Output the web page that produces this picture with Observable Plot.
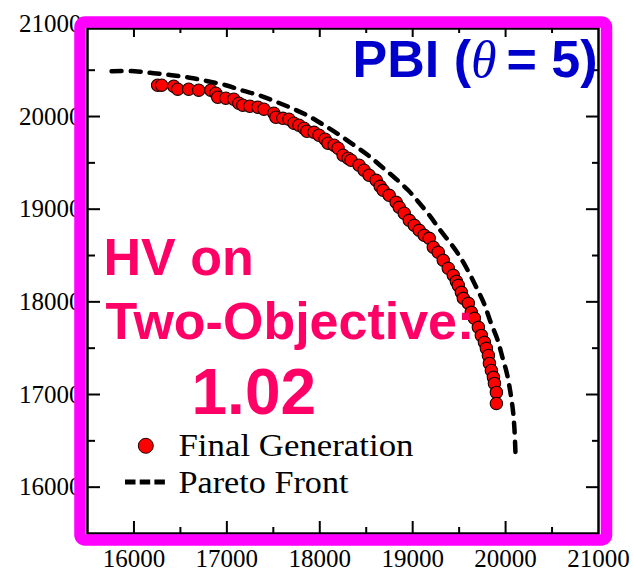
<!DOCTYPE html>
<html><head><meta charset="utf-8">
<script src="https://cdn.jsdelivr.net/npm/d3@7"></script>
<script src="https://cdn.jsdelivr.net/npm/@observablehq/plot@0.6"></script>
<style>html,body{margin:0;padding:0;background:#fff;} svg{display:block}</style>
</head><body>
<div id="chart"></div>
<script>
// ---- data ----
const finalX = [16255, 16298, 16428, 16471, 16589, 16697, 16827, 16881, 16902, 16989, 17075, 17129, 17172, 17247, 17334, 17399, 17506, 17528, 17603, 17668, 17722, 17776, 17830, 17862, 17938, 17992, 18057, 18089, 18154, 18197, 18251, 18305, 18337, 18423, 18477, 18531, 18607, 18650, 18682, 18747, 18822, 18855, 18909, 18963, 19017, 19070, 19124, 19178, 19222, 19275, 19329, 19383, 19437, 19470, 19491, 19524, 19545, 19599, 19631, 19664, 19707, 19739, 19772, 19793, 19815, 19826, 19847, 19869, 19880, 19901, 19901];
const finalY = [20338, 20338, 20327, 20295, 20295, 20284, 20284, 20252, 20208, 20198, 20187, 20144, 20122, 20111, 20100, 20079, 20036, 19992, 19981, 19971, 19928, 19906, 19874, 19841, 19830, 19798, 19755, 19712, 19690, 19658, 19582, 19550, 19528, 19474, 19420, 19366, 19312, 19247, 19204, 19150, 19074, 19020, 18956, 18880, 18826, 18772, 18718, 18686, 18589, 18535, 18448, 18362, 18286, 18221, 18178, 18103, 18038, 17984, 17887, 17822, 17725, 17638, 17563, 17498, 17422, 17336, 17260, 17185, 17120, 17023, 16904];
const paretoX = [15759, 16007, 16212, 16406, 16600, 16794, 16989, 17172, 17345, 17528, 17711, 17884, 18046, 18208, 18369, 18520, 18661, 18812, 18952, 19060, 19189, 19297, 19416, 19513, 19610, 19696, 19772, 19836, 19912, 19966, 20014, 20052, 20079, 20095, 20106];
const paretoY = [20489, 20489, 20468, 20446, 20419, 20381, 20338, 20279, 20230, 20160, 20084, 20003, 19906, 19803, 19690, 19582, 19463, 19334, 19204, 19080, 18923, 18772, 18621, 18481, 18308, 18135, 17973, 17789, 17595, 17401, 17228, 17023, 16828, 16634, 16375];
const xTickLabels = [16000, 17000, 18000, 19000, 20000, 21000];
const yTickLabels = [16000, 17000, 18000, 19000, 20000, 21000];
const majorTicks = [16000, 17000, 18000, 19000, 20000];
const minorTicks = [16500, 17500, 18500, 19500, 20500];
const titleText = "PBI (θ = 5)";
const hvLine1 = "HV on";
const hvLine2 = "Two-Objective:";
const hvValue = "1.02";
const legendLabels = ["Final Generation", "Pareto Front"];

const finalGen = finalX.map((x, i) => ({x, y: finalY[i]}));
const pareto = paretoX.map((x, i) => ({x, y: paretoY[i]}));

const serif = "'Liberation Serif','Times New Roman',Times,serif";
const sans = "'Liberation Sans',Arial,Helvetica,sans-serif";
const pink = "#FF0066";
const noText = () => "";

const chart = Plot.plot({
  width: 633, height: 573,
  marginLeft: 87, marginRight: 35, marginTop: 28, marginBottom: 40,
  x: {domain: [15500, 21000], label: null},
  y: {domain: [15500, 20950], label: null},
  style: {background: "white", overflow: "visible"},
  marks: [
    // inward ticks
    Plot.axisX(majorTicks, {anchor: "bottom", tickSize: -12, strokeWidth: 2, tickFormat: noText, label: null}),
    Plot.axisX(minorTicks, {anchor: "bottom", tickSize: -6, strokeWidth: 2, tickFormat: noText, label: null}),
    Plot.axisX(majorTicks, {anchor: "top", tickSize: -8, strokeWidth: 2, tickFormat: noText, label: null}),
    Plot.axisX(minorTicks, {anchor: "top", tickSize: -4, strokeWidth: 2, tickFormat: noText, label: null}),
    Plot.axisY(majorTicks, {anchor: "left", tickSize: -13, strokeWidth: 2, tickFormat: noText, label: null}),
    Plot.axisY(minorTicks, {anchor: "left", tickSize: -8, strokeWidth: 2, tickFormat: noText, label: null}),
    Plot.axisY(majorTicks, {anchor: "right", tickSize: -13, strokeWidth: 2, tickFormat: noText, label: null}),
    Plot.axisY(minorTicks, {anchor: "right", tickSize: -7, strokeWidth: 2, tickFormat: noText, label: null}),
    // tick labels
    Plot.axisX(xTickLabels, {anchor: "bottom", tickSize: 0, tickPadding: 16, fontSize: 25, fontFamily: serif, fill: "#000", tickFormat: d => String(d), label: null}),
    Plot.axisY(yTickLabels, {anchor: "left", tickSize: 0, tickPadding: 6, fontSize: 25, fontFamily: serif, fill: "#000", tickFormat: d => String(d), label: null}),
    Plot.frame({stroke: "#000", strokeWidth: 2.5}),
    // data
    Plot.line(pareto, {x: "x", y: "y", stroke: "#000", strokeWidth: 4.5, strokeDasharray: "10,9", curve: "catmull-rom"}),
    Plot.dot(finalGen, {x: "x", y: "y", r: 6.2, fill: "#FF0000", stroke: "#1a0000", strokeWidth: 1.1}),
    // annotations
    Plot.text([titleText], {text: d => d, frameAnchor: "top-left", dx: 265, dy: 48, textAnchor: "start", lineAnchor: "bottom", fontSize: 52, fontWeight: "bold", fontFamily: sans, fill: "#0000CC"}),
    Plot.text([hvLine1], {text: d => d, frameAnchor: "top-left", dx: 16, dy: 246, textAnchor: "start", lineAnchor: "bottom", fontSize: 52, fontWeight: "bold", fontFamily: sans, fill: pink}),
    Plot.text([hvLine2], {text: d => d, frameAnchor: "top-left", dx: 18, dy: 310, textAnchor: "start", lineAnchor: "bottom", fontSize: 52, fontWeight: "bold", fontFamily: sans, fill: pink}),
    Plot.text([hvValue], {text: d => d, frameAnchor: "top-left", dx: 104, dy: 385, textAnchor: "start", lineAnchor: "bottom", fontSize: 64, fontWeight: "bold", fontFamily: sans, fill: pink}),
    // legend labels
    Plot.text([legendLabels[0]], {text: d => d, frameAnchor: "top-left", dx: 91, dy: 427, textAnchor: "start", lineAnchor: "bottom", fontSize: 31, fontFamily: serif, fill: "#000"}),
    Plot.text([legendLabels[1]], {text: d => d, frameAnchor: "top-left", dx: 91, dy: 464, textAnchor: "start", lineAnchor: "bottom", fontSize: 31, fontFamily: serif, fill: "#000"}),
    // magenta border on top
    Plot.frame({stroke: "#FF00FF", strokeWidth: 11.5, insetLeft: -7.5, insetTop: -6.5, insetRight: -8, insetBottom: -6.5, rx: 5})
  ]
});

document.getElementById("chart").appendChild(chart);

// style the title with an italic theta
const texts = Array.from(chart.querySelectorAll("text"));
const tt = texts.find(e => e.textContent === titleText);
if (tt) {
  const [a, b] = titleText.split("θ");
  tt.textContent = "";
  const s1 = document.createElementNS("http://www.w3.org/2000/svg", "tspan"); s1.textContent = a;
  const s2 = document.createElementNS("http://www.w3.org/2000/svg", "tspan"); s2.textContent = "θ";
  s2.setAttribute("font-family", serif); s2.setAttribute("font-style", "italic"); s2.setAttribute("font-weight", "normal");
  const s3 = document.createElementNS("http://www.w3.org/2000/svg", "tspan"); s3.textContent = b.replace(/^ /, ""); s3.setAttribute("dx", "10");
  tt.append(s1, s2, s3);
}
// stretch legend labels like the reference
const widths = {"Final Generation": 235, "Pareto Front": 170};
texts.forEach(e => { const w = widths[e.textContent]; if (w) { e.setAttribute("textLength", w); e.setAttribute("lengthAdjust", "spacingAndGlyphs"); } });

// legend swatches
const svg = d3.select(chart);
const legendG = svg.insert("g", () => chart.lastElementChild);
legendG.append("circle").attr("cx", 145.8).attr("cy", 445.8).attr("r", 7.5).attr("fill", "#FF0000").attr("stroke", "#1a0000").attr("stroke-width", 1);
legendG.append("line").attr("x1", 125).attr("x2", 165).attr("y1", 482).attr("y2", 482).attr("stroke", "#000").attr("stroke-width", 5).attr("stroke-dasharray", "10.5,4.2");
</script>
</body></html>
